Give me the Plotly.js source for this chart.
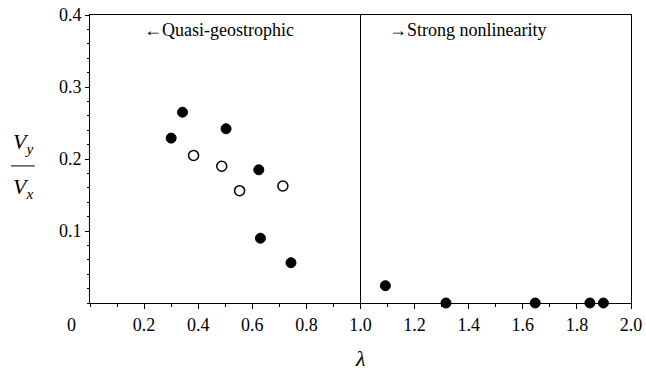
<!DOCTYPE html>
<html>
<head>
<meta charset="utf-8">
<script src="https://cdn.plot.ly/plotly-3.0.1.min.js"></script>
<style>html,body{margin:0;padding:0;background:#fff;}#chart{width:646px;height:371px;}</style>
</head>
<body>
<div id="chart"></div>
<script>
// Filled circles
const filledLambda = [0.30, 0.342, 0.503, 0.624, 0.630, 0.743, 1.092, 1.316, 1.646, 1.848, 1.898];
const filledRatio  = [0.229, 0.265, 0.242, 0.185, 0.090, 0.056, 0.024, 0.0, 0.0, 0.0, 0.0];
// Open circles
const openLambda = [0.383, 0.487, 0.553, 0.713];
const openRatio  = [0.205, 0.190, 0.156, 0.1625];

const xTickVals = [0.2, 0.4, 0.6, 0.8, 1.0, 1.2, 1.4, 1.6, 1.8, 2.0];
const xTickText = ["0.2", "0.4", "0.6", "0.8", "1.0", "1.2", "1.4", "1.6", "1.8", "2.0"];
const yTickVals = [0.1, 0.2, 0.3, 0.4];
const yTickText = ["0.1", "0.2", "0.3", "0.4"];

const regimeLeft = "←Quasi-geostrophic";
const regimeRight = "→Strong nonlinearity";
const boundary = 1.0;

const FONT = "'Times New Roman', 'Liberation Serif', 'DejaVu Serif', 'Noto Serif', serif";

const traces = [
  {
    x: filledLambda, y: filledRatio, type: "scatter", mode: "markers",
    cliponaxis: false,
    marker: {size: 10, color: "#000", line: {color: "#000", width: 1}},
    hoverinfo: "skip"
  },
  {
    x: openLambda, y: openRatio, type: "scatter", mode: "markers",
    cliponaxis: false,
    marker: {size: 10, color: "#fff", line: {color: "#000", width: 1.5}},
    hoverinfo: "skip"
  }
];

const layout = {
  width: 646, height: 371,
  margin: {l: 90, r: 15, t: 15, b: 68},
  paper_bgcolor: "#fff", plot_bgcolor: "#fff",
  showlegend: false,
  font: {family: FONT, size: 18, color: "#000"},
  xaxis: {
    range: [0, 2], tickvals: xTickVals, ticktext: xTickText,
    showgrid: false, zeroline: false,
    showline: true, linecolor: "#000", linewidth: 1, mirror: true,
    ticks: "outside", ticklen: 5, tickcolor: "#000", tickwidth: 1,
    minor: {dtick: 0.1, ticks: "outside", ticklen: 3, tickcolor: "#000", tickwidth: 1, showgrid: false},
    tickfont: {family: FONT, size: 18, color: "#000"}
  },
  yaxis: {
    range: [0, 0.4], tickvals: yTickVals, ticktext: yTickText,
    showgrid: false, zeroline: false,
    showline: true, linecolor: "#000", linewidth: 1, mirror: true,
    ticks: "outside", ticklen: 4, tickcolor: "#000", tickwidth: 1,
    minor: {dtick: 0.02, ticks: "outside", ticklen: 2, tickcolor: "#000", tickwidth: 1, showgrid: false},
    tickfont: {family: FONT, size: 18, color: "#000"}
  },
  shapes: [
    {type: "line", xref: "x", yref: "y", x0: boundary, x1: boundary, y0: 0, y1: 0.4,
     line: {color: "#000", width: 1}},
    {type: "line", xref: "paper", yref: "paper", x0: -0.146, x1: -0.102, y0: 0.476, y1: 0.476,
     line: {color: "#000", width: 1}}
  ],
  annotations: [
    {text: regimeLeft, xref: "x", yref: "y", x: 0.476, y: 0.379, showarrow: false,
     xanchor: "center", yanchor: "middle", font: {family: FONT, size: 18}},
    {text: regimeRight, xref: "x", yref: "y", x: 1.395, y: 0.379, showarrow: false,
     xanchor: "center", yanchor: "middle", font: {family: FONT, size: 18}},
    {text: "0", xref: "paper", yref: "paper", x: -0.035, y: -0.076, showarrow: false,
     xanchor: "center", yanchor: "middle", font: {family: FONT, size: 18}},
    {text: "<i>λ</i>", xref: "x", yref: "paper", x: 1.0, y: -0.194, showarrow: false,
     xanchor: "center", yanchor: "middle", font: {family: FONT, size: 22}},
    {text: "<i>V<sub>y</sub></i>", xref: "paper", yref: "paper", x: -0.124, y: 0.555, showarrow: false,
     xanchor: "center", yanchor: "middle", font: {family: FONT, size: 22}},
    {text: "<i>V<sub>x</sub></i>", xref: "paper", yref: "paper", x: -0.124, y: 0.40, showarrow: false,
     xanchor: "center", yanchor: "middle", font: {family: FONT, size: 22}}
  ]
};

Plotly.newPlot("chart", traces, layout, {displayModeBar: false, staticPlot: true});
</script>
</body>
</html>
